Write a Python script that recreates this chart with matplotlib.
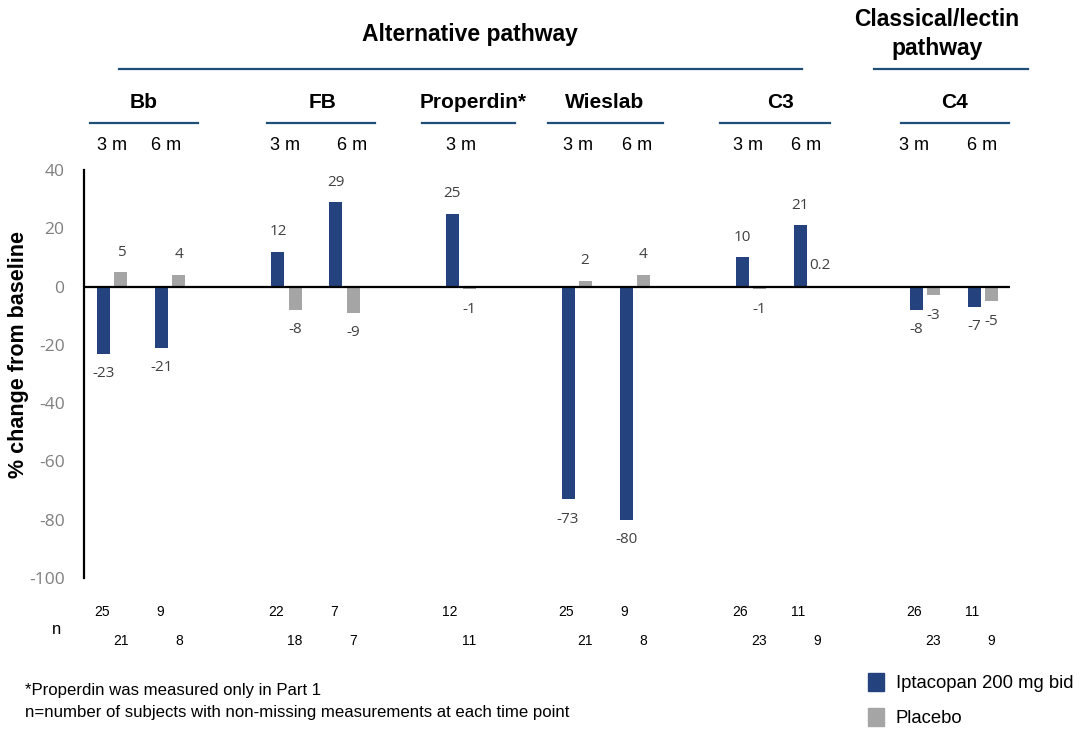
import numpy as np
import matplotlib
matplotlib.use("Agg")
from matplotlib import pyplot as plt
from matplotlib.lines import Line2D
from matplotlib.patches import Patch

plt.rcParams["axes.unicode_minus"] = False

# data
timepoints = ["3 m", "6 m", "3 m", "6 m", "3 m", "3 m", "6 m", "3 m", "6 m", "3 m", "6 m"]
slots = [0, 1, 3, 4, 6, 8, 9, 11, 12, 14, 15]
iptacopan = [-23, -21, 12, 29, 25, -73, -80, 10, 21, -8, -7]
placebo = [5, 4, -8, -9, -1, 2, 4, -1, 0.2, -3, -5]
n_iptacopan = [25, 9, 22, 7, 12, 25, 9, 26, 11, 26, 11]
n_placebo = [21, 8, 18, 7, 11, 21, 8, 23, 9, 23, 9]
markers = ["Bb", "FB", "Properdin*", "Wieslab", "C3", "C4"]
yticks = [40, 20, 0, -20, -40, -60, -80, -100]

BLUE = "#24437E"
GREY = "#A5A5A5"
NAVY = "#1F4E79"
W, H = 1089, 729

sans = ["Liberation Sans", "DejaVu Sans"]
seg = ["Open Sans", "DejaVu Sans"]

fig = plt.figure(figsize=(W / 100, H / 100), dpi=100)
ax = fig.add_axes([84 / W, 1 - 578 / H, (1010 - 84) / W, (578 - 170) / H])

x = np.array(slots, dtype=float)
off = 0.147
bw = 0.224
ax.bar(x - off, iptacopan, width=bw, color=BLUE, zorder=2)
ax.bar(x + off, placebo, width=bw, color=GREY, zorder=2)

def lab(v):
    return "0.2" if v == 0.2 else str(int(v))

for xi, v in zip(x - off, iptacopan):
    ax.annotate(lab(v), (xi, v), xytext=(0, 20 if v > 0 else -20), textcoords="offset pixels",
                ha="center", va="center", fontsize=11, color="#404040", family=seg)
for xi, v in zip(x + off, placebo):
    ax.annotate(lab(v), (xi, v), xytext=(3 if v == 0.2 else 0, 20 if v > 0 else -20),
                textcoords="offset pixels",
                ha="center", va="center", fontsize=11, color="#404040", family=seg)

ax.axhline(0, color="black", lw=1.6, zorder=3)
ax.set_xlim(-0.49, 15.47)
ax.set_ylim(-100, 40)
ax.set_yticks(yticks)
ax.set_xticks([])
ax.tick_params(axis="y", length=0, pad=14, labelsize=12.5, labelcolor="#7F7F7F")
for t in ax.get_yticklabels():
    t.set_family(seg)
for s in ["top", "right", "bottom"]:
    ax.spines[s].set_visible(False)
ax.spines["left"].set_linewidth(1.6)
ax.set_ylabel("% change from baseline", fontsize=15.5, fontweight="bold", family=sans)
ax.yaxis.set_label_coords((29 - 84) / 926, (578 - 354) / 408)

def fx(px):
    return px / W

def fy(py):
    return 1 - py / H

def hline(x0, x1, y):
    fig.add_artist(Line2D([fx(x0), fx(x1)], [fy(y), fy(y)], color=NAVY, lw=1.6))

# pathway headers
fig.text(fx(470), fy(34), "Alternative pathway", ha="center", va="center",
         fontsize=16.5, fontweight="bold", family=sans)
hline(119, 802, 69)
fig.text(fx(937), fy(19), "Classical/lectin", ha="center", va="center",
         fontsize=16.5, fontweight="bold", family=sans)
fig.text(fx(937), fy(48), "pathway", ha="center", va="center",
         fontsize=16.5, fontweight="bold", family=sans)
hline(874, 1028, 69)

# marker headers
centres = [144, 323, 473, 605, 780, 955]
spans = [(90, 198), (267, 375), (422, 515), (548, 663), (720, 830), (901, 1009)]
for name, c, (a, b) in zip(markers, centres, spans):
    fig.text(fx(c), fy(102), name, ha="center", va="center", fontsize=15,
             fontweight="bold", family=sans)
    hline(a, b, 123)

# time point labels
tp_px = [112, 166, 285, 352, 461, 578, 637, 748, 806, 914, 982]
for t, p in zip(timepoints, tp_px):
    fig.text(fx(p), fy(145), t, ha="center", va="center", fontsize=13, family=sans)

# n rows
fig.text(fx(57), fy(630), "n", ha="center", va="center", fontsize=12, family=sans)
for xi, n in zip(x - off, n_iptacopan):
    ax.annotate(str(n), (xi, -100), xytext=(-2, -34), textcoords="offset pixels",
                ha="center", va="center", fontsize=10, family=sans, annotation_clip=False)
for xi, n in zip(x + off, n_placebo):
    ax.annotate(str(n), (xi, -100), xytext=(0, -63), textcoords="offset pixels",
                ha="center", va="center", fontsize=10, family=sans, annotation_clip=False)

# footnotes
fig.text(fx(25), fy(690), "*Properdin was measured only in Part 1", ha="left", va="center",
         fontsize=12.1, family=sans)
fig.text(fx(25), fy(713), "n=number of subjects with non-missing measurements at each time point",
         ha="left", va="center", fontsize=12.1, family=sans)

handles = [Patch(color=BLUE, label="Iptacopan 200 mg bid"), Patch(color=GREY, label="Placebo")]
fig.legend(handles=handles, loc="upper left", bbox_to_anchor=(fx(868), fy(673)),
           frameon=False, handlelength=0.85, handleheight=1.1,
           handletextpad=0.65, labelspacing=0.85, borderpad=0, borderaxespad=0,
           prop={"family": sans, "size": 13.3})

fig.savefig("out.png", dpi=100)
